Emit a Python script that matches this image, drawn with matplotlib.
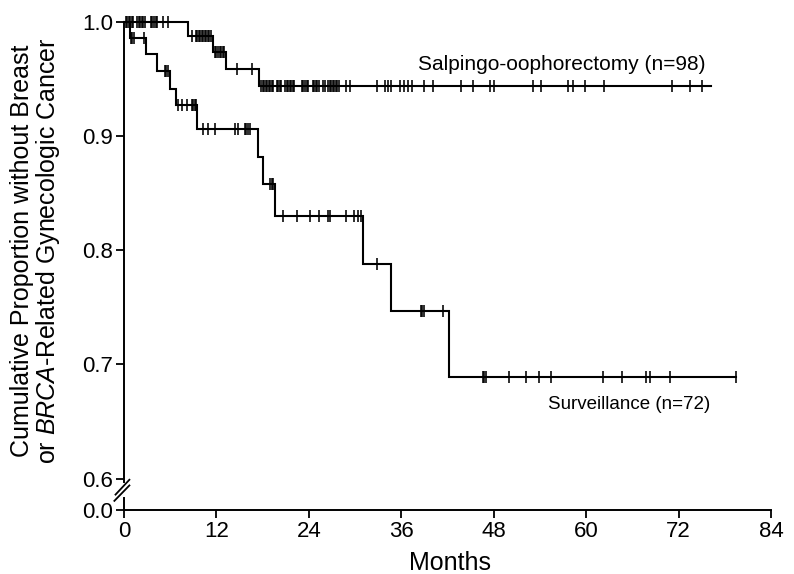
import numpy as np
import matplotlib
matplotlib.use("Agg")
import matplotlib.pyplot as plt

plt.rcParams['font.family'] = ['Liberation Sans', 'DejaVu Sans']
plt.rcParams['mathtext.fontset'] = 'custom'
plt.rcParams['mathtext.rm'] = 'Liberation Sans'
plt.rcParams['mathtext.it'] = 'Liberation Sans:italic'

# ---- data (months, proportion) ----
so_label = "Salpingo-oophorectomy (n=98)"
so_event_times = [8.3, 11.6, 13.3, 17.5]
so_surv = [0.988, 0.974, 0.959, 0.944]
so_end = 76.2
so_censor = [0.2, 0.4, 0.6, 0.8, 1.0, 1.2, 1.7, 1.9, 2.1, 2.3, 2.5, 2.7,
             3.5, 3.7, 3.9, 4.1, 4.3, 5.0, 5.7, 8.8,
             9.3, 9.5, 9.7, 9.9, 10.1, 10.3, 10.5, 10.7, 10.9, 11.1, 11.3,
             11.8, 12.0, 12.2, 12.4, 12.6, 12.8, 13.0, 14.7, 16.6,
             17.8, 18.0, 18.2, 18.4, 18.6, 18.8, 19.0, 19.2, 19.4,
             19.8, 20.0, 20.2, 20.4, 20.9, 21.1, 21.3, 21.5, 21.7, 21.9, 22.1,
             23.1, 23.3, 23.5, 23.7, 23.9, 24.5, 24.7, 24.9, 25.1, 25.3,
             25.8, 26.1, 26.5, 26.7, 26.9, 27.1, 27.3, 27.5, 27.7, 27.9,
             28.8, 29.3, 32.8, 33.9, 34.3, 34.7, 35.8, 36.3, 36.9, 37.4,
             38.9, 40.1, 43.8, 45.3, 47.5, 48.1, 53.1, 54.2, 57.7, 58.3,
             59.8, 62.3, 71.2, 73.5, 75.1]

sv_label = "Surveillance (n=72)"
sv_event_times = [0.8, 2.9, 4.3, 6.0, 6.8, 9.5, 17.4, 18.0, 19.6, 31.0, 34.6, 42.2]
sv_surv = [0.986, 0.972, 0.957, 0.941, 0.927, 0.906, 0.882, 0.858, 0.830, 0.788, 0.747, 0.689]
sv_end = 79.5
sv_censor = [0.9, 1.1, 1.3, 2.6, 5.3, 5.5, 5.7,
             7.0, 7.5, 8.2, 8.8, 9.0, 9.2, 9.4,
             10.3, 10.9, 11.8, 14.4, 14.8, 15.7, 15.9, 16.1, 16.3,
             19.0, 19.2, 19.4,
             20.6, 22.4, 24.2, 25.3, 26.5, 26.7, 28.8, 29.9, 30.4, 30.8,
             32.8, 38.5, 38.7, 38.9, 41.4,
             46.6, 46.8, 47.0, 50.0, 52.2, 53.9, 55.5, 62.2, 64.6, 67.8, 68.3, 70.9, 79.4]

x_ticks = [0, 12, 24, 36, 48, 60, 72, 84]
y_ticks = [0.6, 0.7, 0.8, 0.9, 1.0]
y_tick_labels = ['0.6', '0.7', '0.8', '0.9', '1.0']
y_zero_pos = 0.5725  # position where broken axis shows 0.0


def surv_at(t, ev, s):
    idx = np.searchsorted(np.asarray(ev), np.asarray(t), side='right')
    return np.concatenate([[1.0], s])[idx]


fig = plt.figure(figsize=(7.94, 5.74), dpi=100)
ax = fig.add_axes([124 / 794, 1 - 510 / 574, (771 - 124) / 794, (510 - 22) / 574])

for ev, s, end, cens in [(so_event_times, so_surv, so_end, so_censor),
                         (sv_event_times, sv_surv, sv_end, sv_censor)]:
    xs = [0] + list(ev) + [end]
    ys = [1.0] + list(s) + [s[-1]]
    ax.step(xs, ys, where='post', color='black', lw=1.5, clip_on=False,
            solid_joinstyle='miter')
    ax.plot(cens, surv_at(cens, ev, s), linestyle='none', marker='|',
            ms=8.8, mew=1.15, color='black', clip_on=False)

ax.set_xlim(0, 84)
ax.set_ylim(y_zero_pos, 1.0)
ax.set_xticks(x_ticks)
ax.set_yticks([y_zero_pos] + y_ticks)
ax.set_yticklabels(['0.0'] + y_tick_labels)

for sp in ['top', 'right']:
    ax.spines[sp].set_visible(False)
ax.spines['left'].set_bounds(0.597, 1.0)
ax.spines['left'].set_linewidth(1.4)
ax.spines['bottom'].set_linewidth(1.4)
ax.tick_params(direction='out', length=6, width=1.3, labelsize=16, pad=2,
               color='black', labelcolor='black')

# lower stub of y-axis and break marks
ax.plot([0, 0], [y_zero_pos, 0.583], color='black', lw=1.4, clip_on=False)
ax.plot([-1.1, 0.7], [0.5860, 0.5990], color='black', lw=1.3, clip_on=False)
ax.plot([-1.25, 0.7], [0.5805, 0.5940], color='black', lw=1.3, clip_on=False)

ax.text(38.2, 0.963, so_label, fontsize=15, ha='left', va='center')
ax.text(55.0, 0.6645, sv_label, fontsize=13.5, ha='left', va='center')

fig.text(450 / 794, 1 - 563 / 574, 'Months', fontsize=18, ha='center', va='center')
fig.text(36 / 794, 1 - 251 / 574,
         'Cumulative Proportion without Breast\nor $\\mathit{BRCA}$-Related Gynecologic Cancer',
         fontsize=18, rotation=90, ha='center', va='center', multialignment='center',
         linespacing=1.0)

fig.savefig('out.png', dpi=100)
